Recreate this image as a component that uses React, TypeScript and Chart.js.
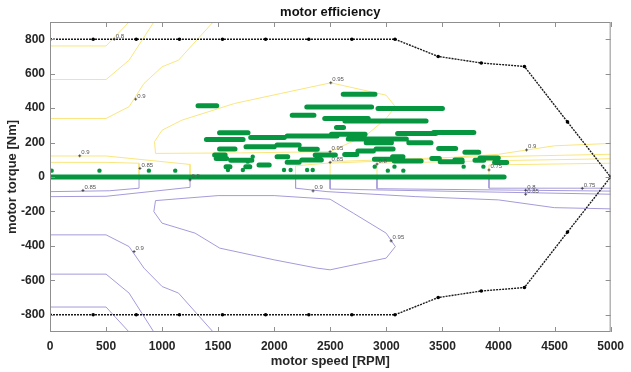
import React, { useEffect, useRef } from "react";
import { Chart, registerables } from "chart.js";
Chart.register(...registerables);

const FONT = '"Liberation Sans", Arial, Helvetica, sans-serif';

const xTicks = [0, 500, 1000, 1500, 2000, 2500, 3000, 3500, 4000, 4500, 5000];
const yTicks = [-800, -600, -400, -200, 0, 200, 400, 600, 800];

// torque envelope
const envSpeed = [0, 385, 769, 1154, 1538, 1923, 2308, 2692, 3077, 3462, 3846, 4231, 4615, 5000];
const envTorque = [800, 800, 800, 800, 800, 800, 800, 800, 800, 700, 662, 642, 320, 0];

// motoring contours (yellow)
const mot080a = [[0, 761], [500, 761], [705, 900]];
const mot085a = [[0, 566], [500, 566], [705, 678], [926, 900]];
const mot090a = [[0, 340], [500, 340], [705, 408], [838, 543], [1000, 640], [1146, 678], [1455, 900]];
const mot090b = [[0, 122], [500, 122], [1249, 73], [1249, 0]];
const mot085b = [[0, 85], [500, 85], [794, 80], [794, 0]];
const mot095 = [[941, 137], [932, 205], [1000, 272], [1176, 330], [1646, 427], [2058, 485], [2504, 547], [2998, 475], [3080, 408], [2998, 340], [2822, 243], [2498, 147], [1700, 140], [941, 137]];
const mot090c = [[2190, 0], [2190, 65], [2470, 80], [3263, 100], [4000, 132], [4497, 181], [5000, 195]];
const mot085c = [[2498, 0], [2498, 89], [3500, 112], [5000, 132]];
const mot080b = [[2916, 0], [2916, 80], [4000, 95], [5000, 106]];
const mot075 = [[3915, 0], [3915, 70], [5000, 80]];

// generating contours (purple)
const gen085a = [[0, -85], [529, -80], [794, -65], [794, 0]];
const gen090a = [[0, -114], [500, -112], [1249, -60], [1249, 0]];
const gen090b = [[0, -336], [500, -336], [705, -404], [838, -529], [1000, -636], [1146, -674], [1455, -900]];
const gen085b = [[0, -564], [500, -564], [705, -674], [926, -900]];
const gen080a = [[0, -755], [500, -755], [705, -900]];
const gen095 = [[941, -137], [1499, -108], [1999, -108], [2498, -129], [2705, -210], [2998, -326], [3080, -404], [2998, -471], [2498, -539], [2381, -529], [1999, -481], [1514, -413], [1294, -326], [999, -268], [926, -201], [941, -137]];
const gen090c = [[2190, 0], [2190, -65], [2470, -85], [3263, -114], [4000, -133], [4497, -178], [5000, -185]];
const gen085c = [[2498, 0], [2498, -70], [5000, -100]];
const gen080b = [[2916, 0], [2916, -68], [5000, -82]];
const gen075 = [[3915, 0], [3915, -65], [5000, -65]];

const motorContours = [mot080a, mot085a, mot090a, mot090b, mot085b, mot095, mot090c, mot085c, mot080b, mot075];
const genContours = [gen085a, gen090a, gen090b, gen085b, gen080a, gen095, gen090c, gen085c, gen080b, gen075];

// contour labels
const labelText = ["0.8", "0.9", "0.95", "0.9", "0.85", "0.9", "0.95", "0.85", "0.8", "0.9", "0.75",
  "0.85", "0.9", "0.9", "0.95", "0.8", "0.85", "0.75"];
const labelSpeed = [573, 764, 2504, 265, 802, 1249, 2498, 2498, 2916, 4250, 3915,
  294, 750, 2346, 3042, 4242, 4242, 4747];
const labelTorque = [800, 452, 547, 123, 50, -17, 147, 85, 75, 157, 41,
  -78, -433, -81, -371, -77, -100, -66];

// operating points: horizontal runs of samples
const runTorque = [0, 413, 480, 407, 398, 359, 340, 325, 288, 257, 218, 230, 238, 248, 252, 258, 220, 199, 199,
  176, 186, 162, 161, 162, 151, 166, 143, 130, 128, 128, 108, 97, 118, 85, 99, 103, 118, 93, 108, 89, 99, 97, 110, 84,
  60, 60, 70];
const runFrom = [0, 1320, 2615, 2290, 2925, 2160, 2450, 2630, 2555, 1512, 1395, 1790, 2115, 2510, 3100, 3420, 2660, 2820, 3200,
  1748, 2025, 1512, 2232, 2908, 2746, 3466, 3700, 2628, 2365, 1468, 1482, 1612, 2025, 2115, 2246, 2893, 3055, 3070, 3405, 3480, 3610, 3790, 3835, 3965,
  1570, 1746, 1864];
const runTo = [4050, 1487, 2898, 2868, 3500, 2354, 2838, 3354, 2618, 1766, 1722, 2090, 2560, 2810, 3440, 3780, 3178, 3045, 3398,
  2000, 2222, 1650, 2384, 3060, 2884, 3618, 3824, 2736, 2545, 1562, 1575, 1800, 2120, 2222, 2420, 3045, 3148, 3310, 3472, 3677, 3675, 3868, 3998, 4073,
  1605, 1782, 1955];
const dotSpeed = [15, 441, 882, 1117, 1587, 1720, 2087, 2146, 2293, 2343, 1764, 1808, 2896, 3013, 3072, 3151, 3689, 3865];
const dotTorque = [37, 37, 37, 37, 41, 41, 41, 41, 41, 41, 89, 118, 60, 37, 60, 37, 60, 60];

const GREEN = "rgb(6,150,64)";
const YELLOW = "rgb(250,230,125)";
const PURPLE = "rgb(165,155,218)";

const decorPlugin = {
  id: "decor",
  afterDatasetsDraw(chart: any) {
    const { ctx, scales } = chart;
    const x = scales.x, y = scales.y;
    ctx.save();
    ctx.font = `6px ${FONT}`;
    ctx.fillStyle = "#555";
    ctx.strokeStyle = "#333";
    ctx.lineWidth = 0.8;
    ctx.textBaseline = "alphabetic";
    for (let i = 0; i < labelText.length; i++) {
      const px = x.getPixelForValue(labelSpeed[i]);
      const py = y.getPixelForValue(labelTorque[i]);
      ctx.beginPath();
      ctx.moveTo(px - 1.5, py);
      ctx.lineTo(px + 1.5, py);
      ctx.moveTo(px, py - 1.5);
      ctx.lineTo(px, py + 1.5);
      ctx.stroke();
      ctx.fillText(labelText[i], px + 1.5, py - 1.5);
    }
    ctx.restore();
  },
  afterDraw(chart: any) {
    const { ctx, chartArea: a, scales } = chart;
    const x = scales.x, y = scales.y;
    ctx.save();
    ctx.strokeStyle = "#8f8f8f";
    ctx.lineWidth = 1;
    ctx.strokeRect(a.left + 0.5, a.top + 0.5, a.right - a.left - 1, a.bottom - a.top - 1);
    ctx.beginPath();
    for (const v of xTicks) {
      const px = Math.round(x.getPixelForValue(v)) + 0.5;
      ctx.moveTo(px, a.bottom);
      ctx.lineTo(px, a.bottom - 5);
      ctx.moveTo(px, a.top);
      ctx.lineTo(px, a.top + 5);
    }
    for (const v of yTicks) {
      const py = Math.round(y.getPixelForValue(v)) + 0.5;
      ctx.moveTo(a.left, py);
      ctx.lineTo(a.left + 5, py);
      ctx.moveTo(a.right, py);
      ctx.lineTo(a.right - 5, py);
    }
    ctx.stroke();
    ctx.fillStyle = "#111";
    ctx.font = `bold 13px ${FONT}`;
    ctx.textAlign = "center";
    ctx.textBaseline = "middle";
    ctx.fillText("motor efficiency", (a.left + a.right) / 2, 12);
    ctx.restore();
  },
};

function contourDataset(pts: number[][], color: string) {
  return {
    type: "line" as const,
    data: pts.map((p) => ({ x: p[0], y: p[1] })),
    borderColor: color,
    borderWidth: 1,
    pointRadius: 0,
    fill: false,
    tension: 0,
    order: 5,
  };
}

export default function App() {
  const ref = useRef<HTMLCanvasElement>(null);
  useEffect(() => {
    if (!ref.current) return;
    const runData: any[] = [];
    for (let i = 0; i < runTorque.length; i++) {
      runData.push({ x: runFrom[i], y: runTorque[i] });
      runData.push({ x: runTo[i], y: runTorque[i] });
      runData.push({ x: runTo[i], y: null });
    }
    const envUpper = envSpeed.map((s, i) => ({ x: s, y: envTorque[i] }));
    const envLower = envSpeed.map((s, i) => ({ x: s, y: -envTorque[i] }));
    const envStyle = {
      type: "line" as const,
      borderColor: "#1a1a1a",
      borderWidth: 1.4,
      borderDash: [2, 1],
      pointRadius: 1.8,
      pointBackgroundColor: "#000",
      pointBorderWidth: 0,
      fill: false,
      tension: 0,
      order: 0,
    };
    const datasets: any[] = [
      { ...envStyle, data: envUpper },
      { ...envStyle, data: envLower },
      {
        type: "line",
        data: runData,
        borderColor: GREEN,
        borderWidth: 5,
        borderCapStyle: "round",
        pointRadius: 0,
        spanGaps: false,
        fill: false,
        order: 1,
      },
      {
        type: "scatter",
        data: dotSpeed.map((s, i) => ({ x: s, y: dotTorque[i] })),
        backgroundColor: GREEN,
        borderWidth: 0,
        pointRadius: 2.2,
        order: 1,
      },
      ...motorContours.map((c) => contourDataset(c, YELLOW)),
      ...genContours.map((c) => contourDataset(c, PURPLE)),
    ];
    const tickFont = { family: FONT, size: 12, weight: "bold" as const };
    const titleFont = { family: FONT, size: 13, weight: "bold" as const };
    const chart = new Chart(ref.current, {
      type: "line",
      data: { datasets },
      options: {
        animation: false,
        responsive: false,
        devicePixelRatio: 1,
        layout: { padding: { top: 22, right: 14, left: 0, bottom: 0 } },
        plugins: {
          legend: { display: false },
          tooltip: { enabled: false },
          title: { display: false },
        },
        scales: {
          x: {
            type: "linear",
            min: 0,
            max: 5000,
            grid: { display: false, drawTicks: false },
            border: { display: false },
            afterBuildTicks: (s: any) => {
              s.ticks = xTicks.map((v) => ({ value: v }));
            },
            afterFit: (s: any) => {
              s.height = 40;
            },
            ticks: {
              font: tickFont,
              color: "#262626",
              padding: 7,
              maxRotation: 0,
              autoSkip: false,
              callback: (v: any) => String(v),
            },
            title: {
              display: true,
              text: "motor speed [RPM]",
              font: titleFont,
              color: "#262626",
              padding: { top: 0, bottom: 2.5 },
            },
          },
          y: {
            type: "linear",
            min: -900,
            max: 900,
            grid: { display: false, drawTicks: false },
            border: { display: false },
            afterBuildTicks: (s: any) => {
              s.ticks = yTicks.map((v) => ({ value: v }));
            },
            afterFit: (s: any) => {
              s.width = 50;
            },
            ticks: {
              font: tickFont,
              color: "#262626",
              padding: 5,
              autoSkip: false,
              callback: (v: any) => String(v),
            },
            title: {
              display: true,
              text: "motor torque [Nm]",
              font: titleFont,
              color: "#262626",
              padding: { top: 4.5, bottom: 0 },
            },
          },
        },
      },
      plugins: [decorPlugin],
    } as any);
    return () => chart.destroy();
  }, []);
  return (
    <div style={{ position: "fixed", left: 0, top: 0, width: 631, height: 372, background: "#fff" }}>
      <canvas ref={ref} width={631} height={372} style={{ width: 631, height: 372, display: "block" }} />
    </div>
  );
}
